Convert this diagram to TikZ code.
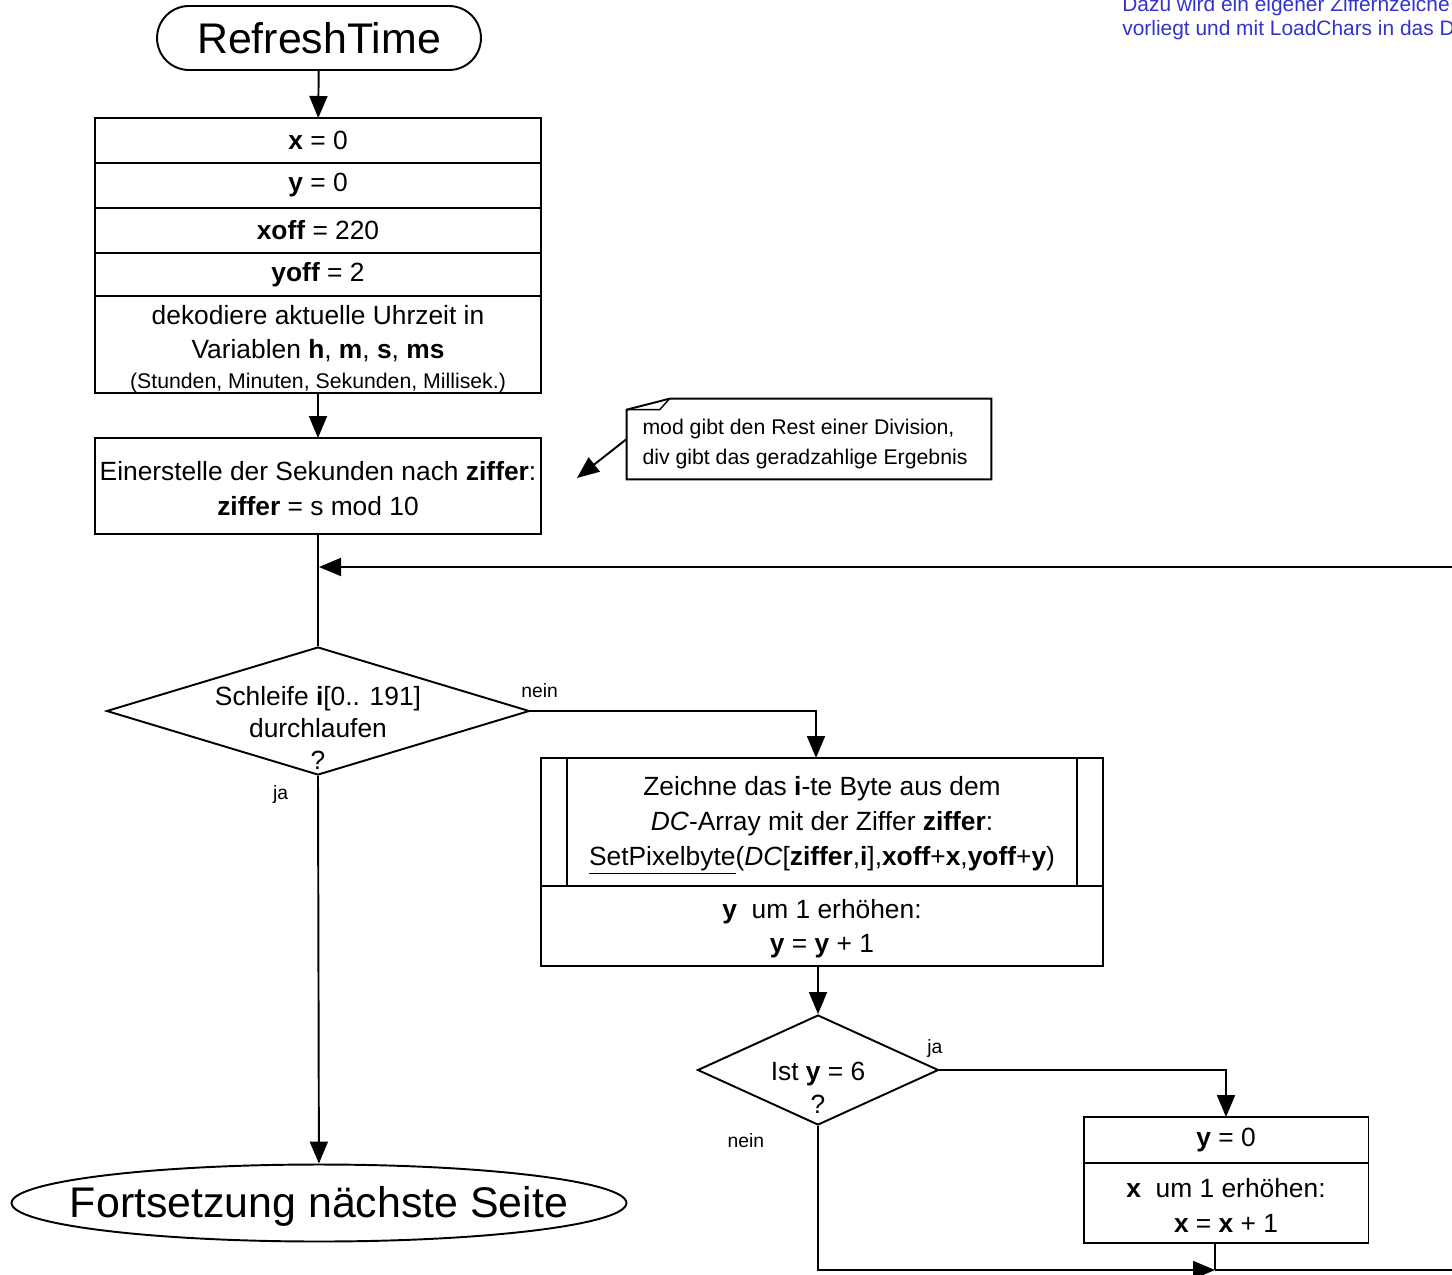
\documentclass[tikz,border=0pt]{standalone}
\usepackage{fontspec}
\setmainfont{Liberation Sans}
\usepackage{xcolor}
\definecolor{uhrblue}{HTML}{3333CC}
\usetikzlibrary{arrows.meta,positioning,shapes.geometric,shapes.misc}
\newcommand\uhrfont{\fontsize{15}{19.8}\selectfont}
\newcommand\uhrsmall{\fontsize{12.1}{17}\selectfont}
\tikzset{
  uhrterm/.style={draw,rounded rectangle,line width=1.1pt,minimum width=6.48cm,minimum height=1.28cm,inner sep=0pt,font=\fontsize{24.4}{28}\selectfont},
  uhrbox/.style={draw,line width=1.1pt,minimum width=8.92cm,inner sep=0pt,outer sep=0pt,align=center,font=\uhrfont},
  uhrdec/.style={draw,diamond,line width=1.1pt,inner sep=0pt},
  uhrtext/.style={align=center,inner sep=0pt,font=\fontsize{15}{18.4}\selectfont},
  uhrflow/.style={-{Triangle[length=0.44cm,width=0.36cm]},line width=1.1pt},
  uhrline/.style={line width=1.1pt},
  uhrlabel/.style={font=\fontsize{11}{12}\selectfont,inner sep=0pt},
}
\begin{document}
\begin{tikzpicture}[x=0.02cm,y=-0.02cm]
\clip (0,0) rectangle (1452,1274);
% left column
\node[uhrterm] (start) at (319,38) {RefreshTime};
\node[uhrbox,minimum height=0.9cm] (x0) at (318,140.5) {\textbf{x} = 0};
\node[uhrbox,minimum height=0.9cm,below=0pt of x0] (y0) {\textbf{y} = 0};
\node[uhrbox,minimum height=0.9cm,below=0pt of y0] (xoff) {\textbf{xoff} = 220};
\node[uhrbox,minimum height=0.86cm,below=0pt of xoff] (yoff) {\textbf{yoff} = 2};
\node[uhrbox,minimum height=1.88cm,below=0pt of yoff] (dekod) {\rule{0pt}{16pt}dekodiere aktuelle Uhrzeit in\\Variablen \textbf{h}, \textbf{m}, \textbf{s}, \textbf{ms}\\[-3pt]{\fontsize{12.1}{13}\selectfont(Stunden, Minuten, Sekunden, Millisek.)}};
\node[uhrbox,minimum height=1.92cm] (ein) at (318,486) {\rule{0pt}{14pt}Einerstelle der Sekunden nach \textbf{ziffer}:\\\textbf{ziffer} = s mod 10};
% comment
\node[minimum width=7.28cm,minimum height=1.6cm,inner sep=0pt] (notebox) at (809,439) {};
\node[inner sep=0pt,align=left,font=\uhrsmall] (note) at (805,444) {mod gibt den Rest einer Division,\\div gibt das geradzahlige Ergebnis};
\draw[uhrline] ([yshift=-0.22cm]notebox.north west) -- ([xshift=0.86cm]notebox.north west) -- (notebox.north east) -- (notebox.south east) -- (notebox.south west) -- cycle;
\draw[line width=0.8pt] ([yshift=-0.22cm]notebox.north west) -- ([xshift=0.66cm,yshift=-0.22cm]notebox.north west) -- ([xshift=0.86cm]notebox.north west);
\coordinate (notetip) at (577,478);
\draw[uhrflow] (notebox.west) -- (notetip);
% loop
\node[uhrdec,minimum width=8.46cm,minimum height=2.56cm] (d1) at (318,711) {};
\node[uhrtext] (d1txt) at (318,728) {Schleife \textbf{i}[0.. 191]\\durchlaufen\\?};
\node[draw,ellipse,line width=1.1pt,minimum width=12.3cm,minimum height=1.54cm,inner sep=0pt] (ende) at (319,1203) {};
\node[font=\fontsize{24.4}{28}\selectfont,inner sep=0pt] (endetxt) at ([yshift=-0.06cm]ende) {Fortsetzung nächste Seite};
\coordinate (loopin) at (319,567);
\coordinate (rtop) at (1480,567);
\coordinate (rbot) at (1480,1270);
\draw[uhrflow] (start) -- (x0);
\draw[uhrflow] (dekod) -- (ein);
\draw[uhrline] (ein) -- (d1);
\draw[uhrflow] (rbot) -- (rtop) -- (loopin);
\draw[uhrflow] (d1.south) -- node[uhrlabel,pos=0,anchor=north east,xshift=-0.58cm,yshift=-0.18cm] {ja} (ende);
% right column
\node[uhrbox,minimum width=11.24cm,minimum height=2.56cm] (proc) at (822,822) {\rule{0pt}{15pt}Zeichne das \textbf{i}-te Byte aus dem\\\textit{DC}-Array mit der Ziffer \textbf{ziffer}:\\\underline{SetPixelbyte}(\textit{DC}[\textbf{ziffer},\textbf{i}],\textbf{xoff}+\textbf{x},\textbf{yoff}+\textbf{y})};
\draw[uhrline] ([xshift=0.52cm]proc.north west) -- ([xshift=0.52cm]proc.south west);
\draw[uhrline] ([xshift=-0.52cm]proc.north east) -- ([xshift=-0.52cm]proc.south east);
\node[uhrbox,minimum width=11.24cm,minimum height=1.6cm,below=0pt of proc] (yinc) {\rule{0pt}{14pt}\textbf{y}\ \ um 1 erhöhen:\\\textbf{y} = \textbf{y} + 1};
\draw[uhrflow] (d1.east) -| node[uhrlabel,pos=0,anchor=south west,xshift=-0.2cm,yshift=0.24cm] {nein} ([xshift=-0.12cm]proc.north);
\node[uhrdec,minimum width=4.82cm,minimum height=2.2cm] (d2) at (818,1070) {};
\node[uhrtext,font=\fontsize{15}{18.7}\selectfont] (d2txt) at (818,1088) {Ist \textbf{y} = 6\\?};
\draw[uhrflow] (yinc.south -| d2.north) -- (d2.north);
\node[uhrbox,minimum width=5.7cm,minimum height=0.92cm] (yz) at (1226,1140) {\textbf{y} = 0};
\node[uhrbox,minimum width=5.7cm,minimum height=1.6cm,below=0pt of yz] (xinc) {\rule{0pt}{14pt}\textbf{x}\ \ um 1 erhöhen:\\\textbf{x} = \textbf{x} + 1};
\draw[uhrflow] (d2.east) -| node[uhrlabel,pos=0,anchor=south west,xshift=-0.26cm,yshift=0.24cm] {ja} (yz.north);
\coordinate (join) at (1215,1270);
\draw[uhrflow] (d2.south) |- node[uhrlabel,pos=0,anchor=north east,xshift=-1.06cm,yshift=-0.14cm] {nein} (join);
\draw[uhrline] (xinc.south -| join) -- (join);
\draw[uhrline] (join) -- (rbot);
% hint
\node[font=\fontsize{11.9}{13.6}\selectfont,text=uhrblue,align=left,anchor=north west,inner sep=0pt] (hint) at (1122,-4) {Dazu wird ein eigener Ziffernzeiche\\vorliegt und mit LoadChars in das D};
\end{tikzpicture}
\end{document}
